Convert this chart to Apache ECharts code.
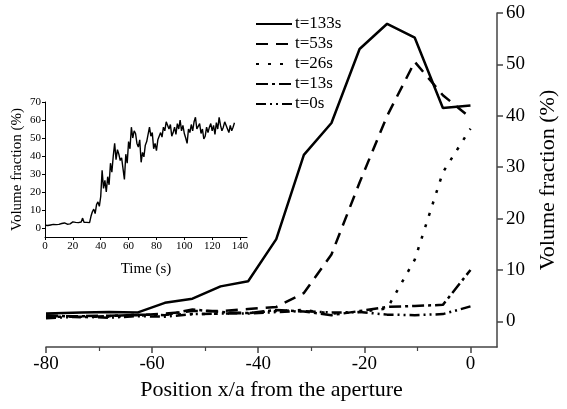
<!DOCTYPE html>
<html><head><meta charset="utf-8">
<script src="https://cdn.jsdelivr.net/npm/echarts@6/dist/echarts.min.js"></script>
<style>html,body{margin:0;padding:0;background:#fff}#c{width:567px;height:409px}</style>
</head><body><div id="c"></div>
<script>
var positions = [-80, -73.3, -68.1, -62.8, -57.6, -52.4, -47.1, -41.9, -36.6, -31.4, -26.2, -20.9, -15.7, -10.5, -5.2, 0];
var t133 = [1.5, 1.7, 1.8, 1.7, 3.6, 4.4, 6.8, 7.8, 16.0, 32.4, 38.6, 53.0, 57.9, 55.2, 41.5, 42.0];
var t53  = [1.0, 1.0, 1.1, 1.2, 1.5, 2.0, 2.0, 2.4, 2.8, 5.5, 13.0, 27.0, 40.0, 50.5, 44.0, 39.6];
var t26  = [0.8, 1.0, 0.9, 1.1, 1.3, 1.4, 1.5, 1.6, 2.0, 2.2, 1.5, 1.8, 2.5, 12.0, 29.0, 37.5];
var t13  = [1.2, 0.8, 1.0, 1.3, 1.2, 2.3, 1.8, 1.6, 2.2, 1.9, 1.2, 2.0, 2.8, 3.0, 3.2, 10.0];
var t0   = [0.6, 0.9, 0.7, 1.0, 0.9, 1.4, 1.5, 1.5, 1.8, 2.0, 1.7, 1.8, 1.3, 1.2, 1.4, 2.9];
var seriesNames = ['t=133s', 't=53s', 't=26s', 't=13s', 't=0s'];
var mainXTicks = [-80, -60, -40, -20, 0];
var mainXMinorTicks = [-70, -50, -30, -10];
var mainYTicks = [0, 10, 20, 30, 40, 50, 60];
var insetXTicks = [0, 20, 40, 60, 80, 100, 120, 140];
var insetYTicks = [0, 10, 20, 30, 40, 50, 60, 70];
// inset: volume fraction vs time, one reading per second (t = 0..136 s)
var insetValues = [
 1.5,1.6,1.4,1.8,1.7,1.6,2.0,1.8,1.9,2.1,
 2.0,2.3,2.5,2.2,2.8,2.4,2.1,2.6,2.3,2.9,
 3.4,2.7,3.1,2.6,3.0,2.8,3.3,5.5,3.2,4.0,
 3.1,3.6,3.0,6.5,9.0,10.5,8.0,13.0,14.5,12.0,
 17.5,32.0,22.0,26.5,20.0,28.5,24.0,36.0,31.0,40.0,
 47.0,38.0,43.5,41.0,37.5,39.0,33.0,27.0,41.0,36.0,
 48.0,44.0,56.0,50.0,54.0,52.5,47.0,45.0,49.0,36.5,
 42.0,39.5,46.0,48.0,52.0,56.0,51.0,53.0,44.0,47.0,
 43.0,49.0,48.0,53.0,50.5,56.0,54.0,59.0,60.0,55.0,
 57.5,51.0,53.0,56.0,52.0,58.0,55.0,60.0,54.0,57.0,
 52.5,50.0,47.0,55.0,53.0,57.5,54.0,59.0,61.5,55.0,
 56.0,58.0,52.5,55.0,49.5,51.0,56.0,53.0,56.0,58.0,
 54.0,57.0,52.0,58.5,55.0,61.5,57.0,54.0,56.0,59.0,
 60.0,55.0,53.0,57.0,54.0,56.0,58.5
];

function pairs(xs, ys){ return xs.map(function(x,i){ return [x, ys[i]]; }); }
var insetData = insetValues.map(function(v,i){ return [i, v]; });

var FONT = 'Liberation Serif';
var dashes = ['solid', [12, 8], [3, 9], [12, 4, 3, 4], [10, 4, 2, 4, 2, 4]];
var mainVals = [t133, t53, t26, t13, t0];

var series = mainVals.map(function(vals, k){
  return {
    name: seriesNames[k], type: 'line', xAxisIndex: 0, yAxisIndex: 0,
    data: pairs(positions, vals), symbol: 'none', showSymbol: false, symbolSize: 0,
    lineStyle: {color: '#000', width: 2.5, type: dashes[k]},
    itemStyle: {color: '#000'}, z: 3
  };
});
series.push({
  name: 'inset', type: 'line', xAxisIndex: 2, yAxisIndex: 1,
  data: insetData, symbol: 'none', showSymbol: false,
  lineStyle: {color: '#000', width: 1.4}, z: 4
});

var chart = echarts.init(document.getElementById('c'));
chart.setOption({
  animation: false,
  backgroundColor: '#fff',
  textStyle: {fontFamily: FONT},
  legend: {
    data: seriesNames, orient: 'vertical', left: 250, top: 10,
    itemWidth: 36, itemHeight: 14, itemGap: 2,
    itemStyle: {opacity: 0},
    textStyle: {fontFamily: FONT, fontSize: 17, color: '#000', lineHeight: 18, padding: [0, 0, 0, -2]}
  },
  grid: [
    {left: 46, right: 66, top: 13, bottom: 62},
    {left: 45, right: 320, top: 102, bottom: 172}
  ],
  xAxis: [
    {
      type: 'value', gridIndex: 0, position: 'bottom', min: -80, max: 5, interval: 20,
      name: 'Position x/a from the aperture', nameLocation: 'middle', nameGap: 32,
      nameTextStyle: {fontFamily: FONT, fontSize: 22, color: '#000'},
      axisLine: {show: true, onZero: false, lineStyle: {color: '#444', width: 1.5}},
      axisTick: {show: true, length: 6, customValues: mainXTicks, lineStyle: {color: '#444', width: 1.5}},
      axisLabel: {fontFamily: FONT, fontSize: 19, color: '#000', margin: 8, customValues: mainXTicks},
      splitLine: {show: false}
    },
    {
      type: 'value', gridIndex: 0, position: 'bottom', min: -80, max: 5,
      axisLine: {show: false, onZero: false},
      axisTick: {show: true, length: 4, customValues: mainXMinorTicks, lineStyle: {color: '#444', width: 1.2}},
      axisLabel: {show: false},
      splitLine: {show: false}
    },
    {
      type: 'value', gridIndex: 1, position: 'bottom', min: 0, max: 145, interval: 20,
      name: 'Time (s)', nameLocation: 'middle', nameGap: 25,
      nameTextStyle: {fontFamily: FONT, fontSize: 15, color: '#000'},
      axisLine: {show: true, onZero: false, lineStyle: {color: '#000', width: 1}},
      axisTick: {show: true, length: 3, customValues: insetXTicks, lineStyle: {color: '#000', width: 1}},
      axisLabel: {fontFamily: FONT, fontSize: 11, color: '#000', margin: 4, customValues: insetXTicks},
      splitLine: {show: false}
    }
  ],
  yAxis: [
    {
      type: 'value', gridIndex: 0, position: 'right', min: -5, max: 60,
      name: 'Volume fraction (%)', nameLocation: 'middle', nameRotate: 90, nameGap: 40,
      nameTextStyle: {fontFamily: FONT, fontSize: 22, color: '#000'},
      axisLine: {show: true, onZero: false, lineStyle: {color: '#444', width: 1.5}},
      axisTick: {show: true, length: 6, customValues: mainYTicks, lineStyle: {color: '#444', width: 1.5}},
      axisLabel: {fontFamily: FONT, fontSize: 19, color: '#000', margin: 9, customValues: mainYTicks},
      splitLine: {show: false}
    },
    {
      type: 'value', gridIndex: 1, min: -5, max: 70,
      name: 'Volume fraction (%)', nameLocation: 'middle', nameRotate: 90, nameGap: 20,
      nameTextStyle: {fontFamily: FONT, fontSize: 15, color: '#000'},
      axisLine: {show: true, onZero: false, lineStyle: {color: '#000', width: 1}},
      axisTick: {show: true, length: 3, customValues: insetYTicks, lineStyle: {color: '#000', width: 1}},
      axisLabel: {fontFamily: FONT, fontSize: 11, color: '#000', margin: 4, customValues: insetYTicks},
      splitLine: {show: false}
    }
  ],
  series: series
});
</script></body></html>
